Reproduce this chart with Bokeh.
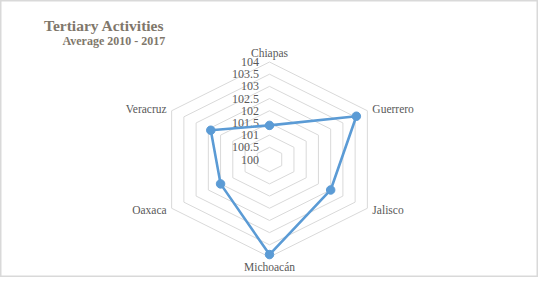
import math
from bokeh.plotting import figure
from bokeh.models import Range1d, Label, ColumnDataSource
from bokeh.core.properties import value
from bokeh.embed import file_html
from bokeh.resources import INLINE

# ---- data ----
categories = ["Chiapas", "Guerrero", "Jalisco", "Michoacán", "Oaxaca", "Veracruz"]
values = [101.4, 103.55, 102.5, 103.9, 102.0, 102.4]
tick_values = [100, 100.5, 101, 101.5, 102, 102.5, 103, 103.5, 104]
tick_labels = ["100", "100.5", "101", "101.5", "102", "102.5", "103", "103.5", "104"]
title_text = "Tertiary Activities"
subtitle_text = "Average 2010 - 2017"

vmin, vmax = tick_values[0], tick_values[-1]
angles = [math.radians(90 - 60 * i) for i in range(len(categories))]

def rnorm(v):
    return (v - vmin) / (vmax - vmin)

# ---- figure geometry ----
W, H = 538, 277
cx, cy_top = 269, 159          # centre in figure pixels (from left / top)
Rx, Ry = 113.0, 97.5           # pixel radius of outer ring (horizontally stretched)

p = figure(width=W, height=H, output_backend="svg", toolbar_location=None,
           min_border=0, x_axis_type=None, y_axis_type=None,
           x_range=Range1d(-cx / Rx, (W - cx) / Rx),
           y_range=Range1d(-(H - cy_top) / Ry, cy_top / Ry))
p.grid.visible = False
p.outline_line_color = "#d9d9d9"
p.outline_line_width = 2
p.background_fill_color = "white"
p.border_fill_color = "white"

serif = value("Liberation Serif")

# ---- rings ----
ring_xs, ring_ys = [], []
for tv in tick_values[1:]:
    r = rnorm(tv)
    xs = [r * math.cos(a) for a in angles] + [r * math.cos(angles[0])]
    ys = [r * math.sin(a) for a in angles] + [r * math.sin(angles[0])]
    ring_xs.append(xs)
    ring_ys.append(ys)
p.multi_line(ring_xs, ring_ys, line_color="#d9d9d9", line_width=1)

# ---- tick labels ----
tsrc = ColumnDataSource(dict(x=[0] * len(tick_values),
                             y=[rnorm(v) for v in tick_values],
                             t=tick_labels))
p.text(x="x", y="y", text="t", source=tsrc, text_align="right",
       text_baseline="middle", x_offset=-10.5, text_font=serif,
       text_font_size="12px", text_color="#595959")

# ---- series ----
sx = [rnorm(v) * math.cos(a) for v, a in zip(values, angles)]
sy = [rnorm(v) * math.sin(a) for v, a in zip(values, angles)]
p.line(sx + [sx[0]], sy + [sy[0]], line_color="#5b9bd5", line_width=2.6)
p.scatter(sx, sy, size=8.5, fill_color="#5b9bd5", line_color="#5b9bd5")

# ---- category labels ----
aligns = ["center", "left", "left", "center", "right", "right"]
xoffs = [0, 5, 5, 0, -5, -5]
yoffs = [-9.5, -2, 2, 9.5, 2, -2]
for cat, a, al, xo, yo in zip(categories, angles, aligns, xoffs, yoffs):
    p.text(x=[math.cos(a)], y=[math.sin(a)], text=[cat], text_align=al,
           text_baseline="middle", x_offset=xo, y_offset=yo,
           text_font=serif, text_font_size="11.5px", text_color="#595959")

# ---- titles ----
p.add_layout(Label(x=43.5, y=H - 24.5, x_units="screen", y_units="screen",
                   text=title_text, text_font="Liberation Serif",
                   text_font_style="bold", text_font_size="15.5px",
                   text_color="#80776b", text_baseline="middle"))
p.add_layout(Label(x=62, y=H - 40.5, x_units="screen", y_units="screen",
                   text=subtitle_text, text_font="Liberation Serif",
                   text_font_style="bold", text_font_size="12px",
                   text_color="#80776b", text_baseline="middle"))

open("out.html", "w").write(file_html(p, INLINE))
